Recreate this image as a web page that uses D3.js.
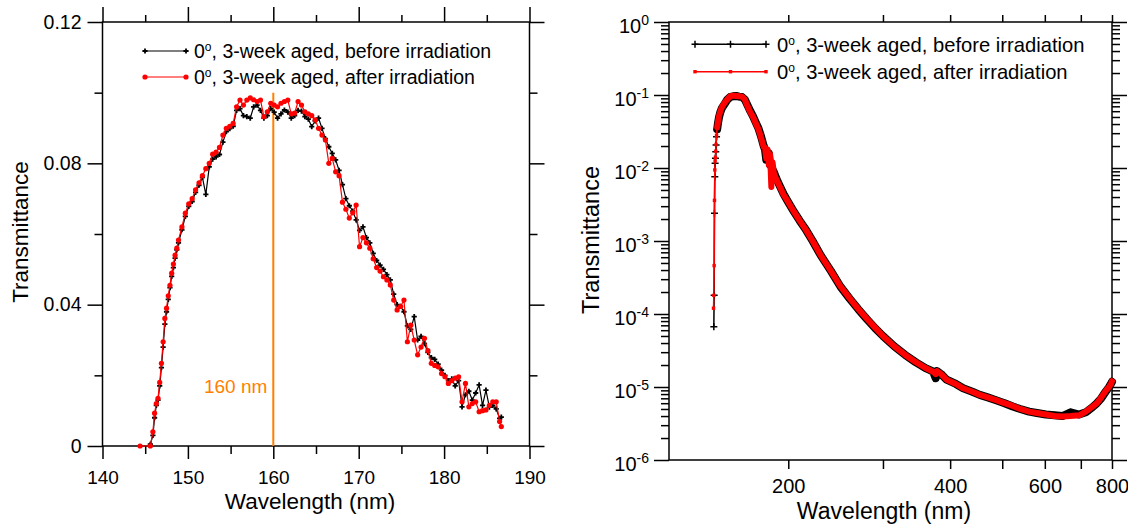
<!DOCTYPE html>
<html>
<head>
<meta charset="utf-8">
<title>Transmittance</title>
<style>
body {margin: 0; background: #fff;}
svg {font-family: "Liberation Sans", Arial, sans-serif;}
.axis path.domain {display: none;}
.axis line {stroke: #000; stroke-width: 1.5;}
.axis text {fill: #000;}
</style>
</head>
<body>
<div id="chart"></div>
<script src="https://d3js.org/d3.v7.min.js"></script>
<script>
// ---- data ----
var seriesLabels = ['3-week aged, before irradiation', '3-week aged, after irradiation'];

var leftWavelength = [
	144.4, 145.6, 145.9, 146.1, 146.3, 146.5, 146.7, 146.9, 147.1, 147.3,
	147.5, 147.7, 147.9, 148.1, 148.3, 148.5, 148.7, 148.9,
	149.3, 149.7, 150.1, 150.5, 150.9, 151.3, 151.7, 152.1, 152.5, 152.9,
	153.3, 153.7, 154.1, 154.5, 154.9, 155.3, 155.7, 156.1, 156.5, 156.9,
	157.3, 157.7, 158.1, 158.5, 158.9, 159.3, 159.7, 160.1, 160.5, 160.9,
	161.3, 161.7, 162.1, 162.5, 162.9, 163.3, 163.7, 164.1, 164.5, 164.9,
	165.3, 165.7, 166.1, 166.5, 166.9, 167.3, 167.7, 168.1, 168.5, 168.9,
	169.3, 169.7, 170.1, 170.5, 170.9, 171.3, 171.7, 172.1, 172.5, 172.9,
	173.3, 173.7, 174.1, 174.5, 174.9, 175.3, 175.7, 176.1, 176.5, 176.9,
	177.3, 177.7, 178.1, 178.5, 178.9, 179.3, 179.7, 180.1, 180.5, 180.9,
	181.3, 181.7, 182.1, 182.5, 182.9, 183.3, 183.7, 184.1, 184.5, 184.9,
	185.3, 185.7, 186.1, 186.5, 186.7
];
var leftBefore = [
	null, 0.0005, 0.003, 0.008, 0.0115, 0.013, 0.017, 0.0222, 0.028, 0.0345,
	0.038, 0.0415, 0.0448, 0.0480, 0.0505, 0.0532, 0.0555, 0.0575,
	0.0612, 0.0650, 0.0678, 0.0692, 0.0718, 0.0738, 0.0760, 0.0712, 0.0790, 0.0812,
	0.0818, 0.0825, 0.0860, 0.0890, 0.0898, 0.0905, 0.0950, 0.0955, 0.0935, 0.0932,
	0.0928, 0.0960, 0.0965, 0.0950, 0.0928, 0.0935, 0.0955, 0.0945, 0.0928, 0.0940,
	0.0951, 0.0945, 0.0928, 0.0935, 0.0950, 0.0948, 0.0932, 0.0925, 0.0904, 0.0920,
	0.0928, 0.0899, 0.0870, 0.0847, 0.0828, 0.0810, 0.0780, 0.0740, 0.0700, 0.0680,
	0.0665, 0.0640, 0.0610, 0.0620, 0.0590, 0.0575, 0.0545, 0.0525, 0.0512, 0.0500,
	0.0485, 0.0470, 0.0430, 0.0400, 0.0395, 0.0380, 0.0340, 0.0330, 0.0366, 0.0300,
	0.0310, 0.0290, 0.0265, 0.0250, 0.0245, 0.0232, 0.0215, 0.0200, 0.0185, 0.0190,
	0.0170, 0.0185, 0.0111, 0.0145, 0.0155, 0.0130, 0.0150, 0.0173, 0.0115, 0.0158,
	0.0110, 0.0115, 0.0105, 0.0078, 0.0082
];
var leftAfter = [
	0, 0, 0.004, 0.0093, 0.012, 0.0135, 0.018, 0.0234, 0.0295, 0.0361,
	0.039, 0.0425, 0.0455, 0.0489, 0.0515, 0.054, 0.056, 0.0583,
	0.062, 0.0659, 0.0685, 0.070, 0.0725, 0.0745, 0.0765, 0.0785, 0.080, 0.0826,
	0.0832, 0.0845, 0.0880, 0.0899, 0.0905, 0.0913, 0.0960, 0.0979, 0.0965, 0.0979,
	0.0985, 0.0980, 0.0975, 0.0979, 0.0932, 0.0946, 0.0970, 0.0965, 0.0960, 0.0970,
	0.0975, 0.0979, 0.0940, 0.0942, 0.0975, 0.0965, 0.0946, 0.0940, 0.0935, 0.0923,
	0.0899, 0.0880, 0.0866, 0.0800, 0.0814, 0.0776, 0.0765, 0.0690, 0.0670, 0.0645,
	0.0660, 0.0682, 0.0564, 0.0590, 0.0575, 0.0560, 0.0530, 0.0505, 0.0495, 0.0479,
	0.0470, 0.0456, 0.0413, 0.0385, 0.0395, 0.0413, 0.0295, 0.0342, 0.0300, 0.0258,
	0.0280, 0.0305, 0.0270, 0.0234, 0.0228, 0.0224, 0.0205, 0.0196, 0.0177, 0.0185,
	0.0192, 0.0196, 0.0125, 0.0177, 0.0111, 0.0120, 0.0125, 0.0097, 0.0100, 0.0102,
	0.0115, 0.0125, 0.0125, 0.0069, 0.0055
];
var leftMark = 160;		// the 160 nm line
var leftMarkTop = 0.1;

var rightWavelength = [
	145.2, 145.4, 145.6, 145.8, 146.0, 146.2, 146.4, 146.6, 146.8, 147.1,
	147.5, 148, 148.7, 149.5, 150.5, 152, 154, 156, 158, 160,
	162, 164, 166, 168, 170, 172, 174, 176, 178, 180,
	181, 182, 183, 184, 185, 186, 187, 188, 190, 193,
	196, 200, 205, 210, 216, 222, 230, 240, 250, 260,
	270, 280, 290, 300, 315, 330, 345, 360, 367, 372,
	376, 378, 385, 394, 410, 423, 440, 454, 470, 487,
	505, 523, 540, 561, 580, 603, 625, 647, 670, 695,
	715, 736, 750, 764, 780, 790, 797, 800
];
var rightBefore = [
	null, 6.7e-5, 1.8e-4, 2.4e-3, 7.6e-3, 0.0116, 0.0136, 0.0167, 0.0206, 0.0268,
	0.034, 0.041, 0.050, 0.058, 0.066, 0.074, 0.086, 0.094, 0.096, 0.097,
	0.095, 0.094, 0.087, 0.072, 0.060, 0.051, 0.042, 0.035, 0.027, 0.020,
	0.018, 0.013, 0.015, 0.016, 0.011, 0.0105, 0.0095, 0.0088, 0.0072, 0.0056,
	0.0044, 0.0034, 0.0025, 0.0019, 0.0014, 0.00100, 0.00063, 0.00039, 0.000238, 0.000163,
	1.16e-4, 8.5e-5, 6.4e-5, 5.0e-5, 3.6e-5, 2.75e-5, 2.19e-5, 1.81e-5, 1.70e-5, 1.62e-5,
	1.32e-5, 1.65e-5, 1.50e-5, 1.26e-5, 1.10e-5, 9.6e-6, 8.6e-6, 7.8e-6, 7.2e-6, 6.6e-6,
	6.0e-6, 5.4e-6, 5.0e-6, 4.6e-6, 4.4e-6, 4.2e-6, 4.1e-6, 4.0e-6, 4.5e-6, 4.2e-6,
	4.5e-6, 5.3e-6, 6.0e-6, 7.0e-6, 8.8e-6, 1.0e-5, 1.12e-5, 1.18e-5
];
var rightAfter = [
	1.2e-4, 1.8e-4, 4.6e-4, 3.6e-3, 9.4e-3, 0.0125, 0.014, 0.017, 0.021, 0.028,
	0.036, 0.043, 0.052, 0.060, 0.068, 0.077, 0.087, 0.096, 0.098, 0.097,
	0.096, 0.095, 0.087, 0.070, 0.058, 0.050, 0.041, 0.034, 0.026, 0.0195,
	0.019, 0.0135, 0.018, 0.011, 0.0155, 0.0055, 0.0120, 0.0085, 0.0070, 0.0055,
	0.0043, 0.0034, 0.0025, 0.0019, 0.0014, 0.00100, 0.00063, 0.00039, 0.000240, 0.000165,
	1.17e-4, 8.6e-5, 6.5e-5, 5.0e-5, 3.6e-5, 2.75e-5, 2.2e-5, 1.82e-5, 1.70e-5, 1.62e-5,
	1.5e-5, 1.65e-5, 1.50e-5, 1.26e-5, 1.10e-5, 9.6e-6, 8.6e-6, 7.8e-6, 7.2e-6, 6.6e-6,
	6.0e-6, 5.5e-6, 5.0e-6, 4.6e-6, 4.4e-6, 4.2e-6, 4.0e-6, 3.95e-6, 4.0e-6, 4.1e-6,
	4.6e-6, 5.4e-6, 6.0e-6, 7.2e-6, 9.0e-6, 1.0e-5, 1.12e-5, 1.2e-5
];

// tick labels
var leftXTicks = [140, 150, 160, 170, 180, 190];
var leftXMinor = [145, 155, 165, 175, 185];
var leftYTicks = [0, 0.04, 0.08, 0.12];
var leftYMinor = [0.02, 0.06, 0.10];
var rightXTicks = [200, 400, 600, 800];
var rightXMinor = [300, 500, 700];
var rightYExponents = [-6, -5, -4, -3, -2, -1, 0];

(function(d3) {
	var width = 1128;
	var height = 525;
	var black = '#000';
	var red = '#ff0000';
	var orange = '#ff7f00';

	var svg = d3.select('#chart')
		.append('svg')
		.attr('width', width)
		.attr('height', height);

	function pairs(xs, ys) {
		return xs.map(function(x, i) { return [x, ys[i]]; })
			.filter(function(d) { return d[1] != null; });
	}

	// draw a set of ticks with a d3 axis; no domain line
	function ticks(axis, tx, ty) {
		return svg.append('g')
			.attr('class', 'axis')
			.attr('transform', 'translate(' + tx + ',' + ty + ')')
			.call(axis.tickSizeOuter(0))
			.call(function(g) { g.select('.domain').remove(); });
	}

	function frame(x0, x1, y0, y1) {
		svg.append('rect')
			.attr('x', x0).attr('y', y0)
			.attr('width', x1 - x0).attr('height', y1 - y0)
			.attr('fill', 'none')
			.attr('stroke', black)
			.attr('stroke-width', 1.5);
	}

	var plusPath = function(s) { return 'M' + (-s) + ',0H' + s + 'M0,' + (-s) + 'V' + s; };

	function legendText(sel, x, dy, size) {
		var t = sel.append('text')
			.attr('x', x).attr('y', dy)
			.style('font-size', size);
		t.append('tspan').text('0');
		t.append('tspan').attr('dy', -7).style('font-size', '12px').text('o');
		t.append('tspan').attr('dy', 7).text(function(d) { return ', ' + d; });
	}

	// ================= left panel =================
	var xL = d3.scaleLinear().domain([140, 190]).range([102.5, 529.5]);
	var yL = d3.scaleLinear().domain([0, 0.12]).range([446, 22]);

	frame(xL(140), xL(190), yL(0.12), yL(0));

	ticks(d3.axisBottom(xL).tickValues(leftXTicks).tickSize(13).tickPadding(12), 0, yL(0))
		.selectAll('text').style('font-size', '19px');
	ticks(d3.axisBottom(xL).tickValues(leftXMinor).tickSize(8).tickFormat(''), 0, yL(0));
	ticks(d3.axisTop(xL).tickValues(leftXTicks).tickSize(15).tickFormat(''), 0, yL(0.12));
	ticks(d3.axisTop(xL).tickValues(leftXMinor).tickSize(7).tickFormat(''), 0, yL(0.12));
	ticks(d3.axisLeft(yL).tickValues(leftYTicks).tickSize(15).tickPadding(6)
		.tickFormat(function(d) { return d === 0 ? '0' : d3.format('.2f')(d); }), xL(140), 0)
		.selectAll('text').style('font-size', '19.5px');
	ticks(d3.axisLeft(yL).tickValues(leftYMinor).tickSize(8).tickFormat(''), xL(140), 0);
	ticks(d3.axisRight(yL).tickValues(leftYTicks).tickSize(15).tickFormat(''), xL(190), 0);
	ticks(d3.axisRight(yL).tickValues(leftYMinor).tickSize(8).tickFormat(''), xL(190), 0);

	svg.append('text')
		.attr('x', 310).attr('y', 509)
		.attr('text-anchor', 'middle')
		.style('font-size', '22.5px')
		.text('Wavelength (nm)');
	svg.append('text')
		.attr('transform', 'translate(20,232) rotate(-90)')
		.attr('text-anchor', 'middle')
		.attr('dy', '0.35em')
		.style('font-size', '22.5px')
		.text('Transmittance');

	// 160 nm line
	svg.append('line')
		.attr('x1', xL(leftMark)).attr('x2', xL(leftMark))
		.attr('y1', yL(0)).attr('y2', yL(leftMarkTop))
		.attr('stroke', orange)
		.attr('stroke-width', 2);
	svg.append('text')
		.attr('x', xL(leftMark) - 6).attr('y', 393)
		.attr('text-anchor', 'end')
		.attr('fill', orange)
		.style('font-size', '19px')
		.text(leftMark + ' nm');

	var lineL = d3.line()
		.x(function(d) { return xL(d[0]); })
		.y(function(d) { return yL(d[1]); });

	var leftB = pairs(leftWavelength, leftBefore);
	var leftA = pairs(leftWavelength, leftAfter);

	svg.append('path')
		.attr('d', lineL(leftB))
		.attr('fill', 'none').attr('stroke', black).attr('stroke-width', 1.2);
	svg.selectAll('.mkLB')
		.data(leftB)
		.enter()
		.append('path')
		.attr('class', 'mkLB')
		.attr('transform', function(d) { return 'translate(' + xL(d[0]) + ',' + yL(d[1]) + ')'; })
		.attr('d', plusPath(2.6))
		.attr('stroke', black).attr('stroke-width', 1.8);

	svg.append('path')
		.attr('d', lineL(leftA))
		.attr('fill', 'none').attr('stroke', red).attr('stroke-width', 1.2);
	svg.selectAll('.mkLA')
		.data(leftA)
		.enter()
		.append('circle')
		.attr('class', 'mkLA')
		.attr('cx', function(d) { return xL(d[0]); })
		.attr('cy', function(d) { return yL(d[1]); })
		.attr('r', 2.6)
		.attr('fill', red);

	// left legend
	var legL = svg.selectAll('.legL')
		.data(seriesLabels)
		.enter()
		.append('g')
		.attr('class', 'legL')
		.attr('transform', function(d, i) { return 'translate(145,' + (51 + i * 26) + ')'; });
	legL.append('line')
		.attr('x1', 0).attr('x2', 41)
		.attr('stroke', function(d, i) { return i ? red : black; })
		.attr('stroke-width', 1.2);
	legL.each(function(d, i) {
		var g = d3.select(this);
		[0, 41].forEach(function(x) {
			if (i) {
				g.append('circle').attr('cx', x).attr('r', 2.6).attr('fill', red);
			} else {
				g.append('path').attr('transform', 'translate(' + x + ',0)')
					.attr('d', plusPath(2.6)).attr('stroke', black).attr('stroke-width', 1.8);
			}
		});
	});
	legendText(legL, 49, 6.8, '19.5px');

	// ================= right panel =================
	var xR = d3.scaleLog().domain([120, 800]).range([669, 1112]);
	var yR = d3.scaleLog().domain([1e-6, 1]).range([460, 22]);

	frame(xR(120), xR(800), yR(1), yR(1e-6));

	var decades = rightYExponents.map(function(e) { return Math.pow(10, e); });
	var minorY = [];
	decades.slice(0, -1).forEach(function(d) {
		d3.range(2, 10).forEach(function(m) { minorY.push(d * m); });
	});

	ticks(d3.axisBottom(xR).tickValues(rightXTicks).tickSize(9).tickPadding(10).tickFormat(d3.format('d')), 0, yR(1e-6))
		.selectAll('text').style('font-size', '20px');
	ticks(d3.axisBottom(xR).tickValues(rightXMinor).tickSize(9).tickFormat(''), 0, yR(1e-6));
	ticks(d3.axisTop(xR).tickValues(rightXTicks.concat(rightXMinor)).tickSize(7).tickFormat(''), 0, yR(1));

	var yAx = ticks(d3.axisLeft(yR).tickValues(decades).tickSize(15).tickPadding(5).tickFormat(''), xR(120), 0);
	yAx.selectAll('.tick text')
		.style('font-size', '20px')
		.attr('dy', '0.5em')
		.each(function(d) {
			var t = d3.select(this);
			t.append('tspan').text('10');
			t.append('tspan').attr('dy', -8).style('font-size', '14px')
				.text(Math.round(Math.log10(d)));
		});
	ticks(d3.axisLeft(yR).tickValues(minorY).tickSize(8).tickFormat(''), xR(120), 0);
	ticks(d3.axisRight(yR).tickValues(decades).tickSize(15).tickFormat(''), xR(800), 0);
	ticks(d3.axisRight(yR).tickValues(minorY).tickSize(8).tickFormat(''), xR(800), 0);

	svg.append('text')
		.attr('x', 884).attr('y', 519)
		.attr('text-anchor', 'middle')
		.style('font-size', '23px')
		.text('Wavelength (nm)');
	svg.append('text')
		.attr('transform', 'translate(591,240) rotate(-90)')
		.attr('text-anchor', 'middle')
		.attr('dy', '0.35em')
		.style('font-size', '23.5px')
		.text('Transmittance');

	var lineR = d3.line()
		.x(function(d) { return xR(d[0]); })
		.y(function(d) { return yR(d[1]); });

	var rightB = pairs(rightWavelength, rightBefore);
	var rightA = pairs(rightWavelength, rightAfter);
	// past the steep edge the dense markers merge into a thick band
	var bandFrom = 147.5;
	var inBand = function(d) { return d[0] >= bandFrom; };

	svg.append('path')
		.attr('d', lineR(rightB.filter(inBand)))
		.attr('fill', 'none').attr('stroke', black)
		.attr('stroke-width', 8).attr('stroke-linejoin', 'round').attr('stroke-linecap', 'round');
	svg.append('path')
		.attr('d', lineR(rightB))
		.attr('fill', 'none').attr('stroke', black).attr('stroke-width', 1.5);
	svg.selectAll('.mkRB')
		.data(rightB)
		.enter()
		.append('path')
		.attr('class', 'mkRB')
		.attr('transform', function(d) { return 'translate(' + xR(d[0]) + ',' + yR(d[1]) + ')'; })
		.attr('d', plusPath(3.5))
		.attr('stroke', black).attr('stroke-width', 1.5);

	svg.append('path')
		.attr('d', lineR(rightA.filter(inBand)))
		.attr('fill', 'none').attr('stroke', red)
		.attr('stroke-width', 6).attr('stroke-linejoin', 'round').attr('stroke-linecap', 'round');
	svg.append('path')
		.attr('d', lineR(rightA))
		.attr('fill', 'none').attr('stroke', red).attr('stroke-width', 1.5);
	svg.selectAll('.mkRA')
		.data(rightA)
		.enter()
		.append('rect')
		.attr('class', 'mkRA')
		.attr('x', function(d) { return xR(d[0]) - 1.7; })
		.attr('y', function(d) { return yR(d[1]) - 1.7; })
		.attr('width', 3.4).attr('height', 3.4)
		.attr('fill', red);

	// right legend
	var legR = svg.selectAll('.legR')
		.data(seriesLabels)
		.enter()
		.append('g')
		.attr('class', 'legR')
		.attr('transform', function(d, i) { return 'translate(695,' + (44.3 + i * 27.4) + ')'; });
	legR.append('line')
		.attr('x1', 0).attr('x2', 71)
		.attr('stroke', function(d, i) { return i ? red : black; })
		.attr('stroke-width', 1.5);
	legR.each(function(d, i) {
		var g = d3.select(this);
		[0, 35.5, 71].forEach(function(x) {
			if (i) {
				g.append('rect').attr('x', x - 1.7).attr('y', -1.7)
					.attr('width', 3.4).attr('height', 3.4).attr('fill', red);
			} else {
				g.append('path').attr('transform', 'translate(' + x + ',0)')
					.attr('d', plusPath(3.5)).attr('stroke', black).attr('stroke-width', 1.5);
			}
		});
	});
	legendText(legR, 82, 7.4, '20.2px');

})(window.d3);
</script>
</body>
</html>
